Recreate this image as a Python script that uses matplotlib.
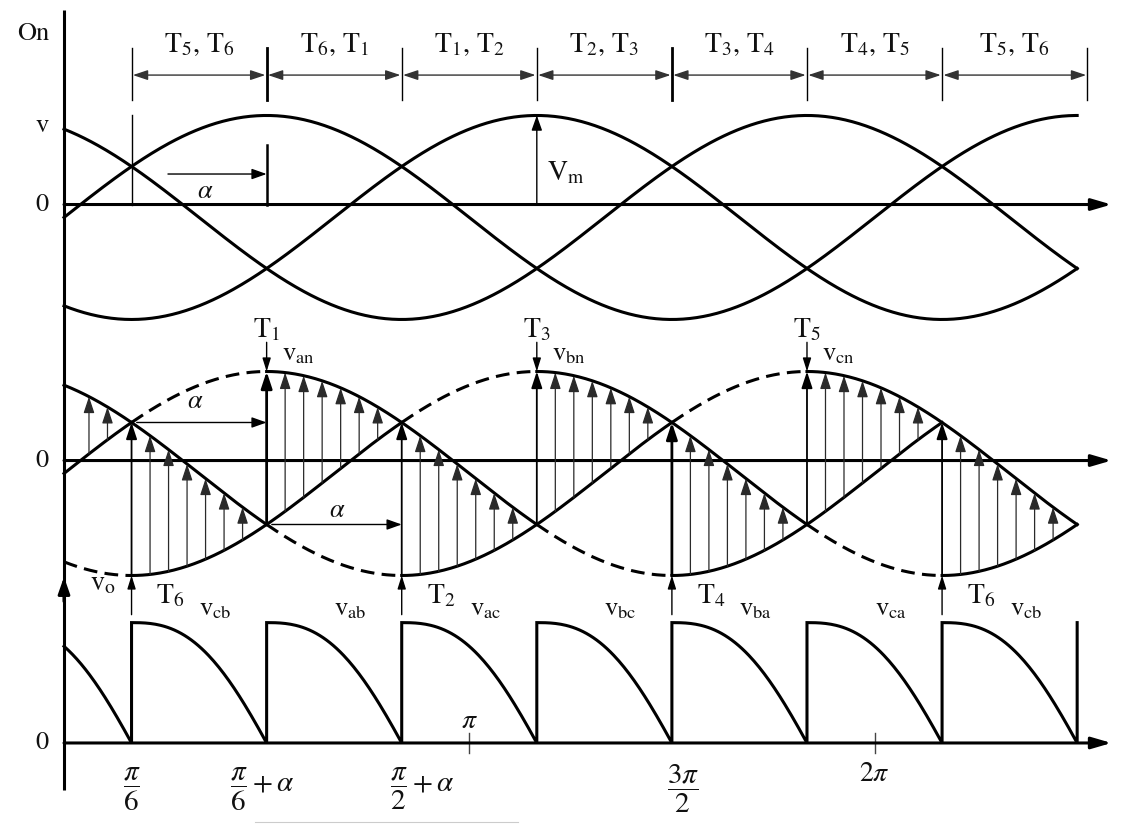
import numpy as np
import matplotlib
matplotlib.use("Agg")
import matplotlib.pyplot as plt

plt.rcParams['font.family'] = ['STIXGeneral', 'DejaVu Serif']
plt.rcParams['mathtext.fontset'] = 'stix'

PI = np.pi

# ---------------- converter data ----------------
phase_shift = [0.0, -2 * PI / 3, 2 * PI / 3]      # van, vbn, vcn  (per unit of Vm)
alpha = PI / 3                                    # firing delay angle
theta_end = 5 * PI / 2

# thyristor number -> supply phase (0=a, 1=b, 2=c)
thyristor_phase = {1: 0, 3: 1, 5: 2, 4: 0, 6: 1, 2: 2}
upper_group = [1, 3, 5]
lower_group = [4, 6, 2]

# conducting pairs between successive firings
pair_labels = ['T$_5$, T$_6$', 'T$_6$, T$_1$', 'T$_1$, T$_2$', 'T$_2$, T$_3$',
               'T$_3$, T$_4$', 'T$_4$, T$_5$', 'T$_5$, T$_6$']
# device fired at the start of each interval and resulting output voltage
fired_device = [6, 1, 2, 3, 4, 5, 6]
output_labels = ['cb', 'ab', 'ac', 'bc', 'ba', 'ca', 'cb']
phase_labels = {1: 'an', 3: 'bn', 5: 'cn'}

# output-voltage pulse profile (drawn shape of each 60 degree segment)
vo_peak = 1.18
vo_shape_exp = 1.3

# ---------------- layout (1 unit = Vm) ----------------
base1 = 6.064        # centre of phase-voltage panel
base2 = 3.554        # centre of switching panel
base3 = 0.912        # zero of output-voltage panel
axis_lift = 0.127    # drawn zero axis of the sine panels
dim_y = 7.46         # conduction-pair dimension line
x_arrow_end = 8.12
LW = 2.2
FS = 19


def fire_angle(n):
    return PI / 6 + alpha + (n - 1) * PI / 3


def v(ph, th):
    return np.sin(np.asarray(th) + phase_shift[ph])


def on_device(th, group):
    ages = [((th + 1e-9 - fire_angle(n)) % (2 * PI)) for n in group]
    return group[int(np.argmin(ages))]


interval_starts = [PI / 6 + alpha + (k - 1) * PI / 3 for k in range(len(pair_labels))]
interval_len = PI / 3

fig = plt.figure(figsize=(11.33, 8.36), dpi=100)
ax = fig.add_axes([0, 0, 1, 1])
ax.set_xlim(-64 / 129, (1133 - 64) / 129)
ax.set_ylim(0, 836 / 102)
ax.axis('off')


def arrow(x0, y0, x1, y1, lw=1.0, color='k', hl=0.9, hw=0.32, style='-|>'):
    ax.annotate('', xy=(x1, y1), xytext=(x0, y0),
                arrowprops=dict(arrowstyle=f'{style},head_length={hl},head_width={hw}',
                                lw=lw, color=color, shrinkA=0, shrinkB=0))


def label(x, y, s, fs=FS, ha='center', va='center'):
    ax.text(x, y, s, fontsize=fs, ha=ha, va=va, color='#111111')


# ---------------- axes ----------------
ax.plot([0, 0], [0.45, 8.10], color='k', lw=LW, solid_capstyle='butt')
arrow(0, 2.30, 0, 2.54, lw=LW, hl=1.0, hw=0.35)
for y0 in (base1 + axis_lift, base2 + axis_lift, base3):
    arrow(0, y0, x_arrow_end, y0, lw=LW, hl=1.2, hw=0.35)
    label(-0.17, y0, '0')

label(-0.24, 7.86, 'On')
label(-0.17, base1 + v(2, 0) + 0.03, 'v')
label(0.20, 2.47, 'v$_{\\rm o}$', fs=20, ha='left')

# ---------------- conduction-pair dimension row ----------------
dim_marks = interval_starts + [theta_end + 0.08]
for m in dim_marks:
    bold = np.isclose(m, PI / 2) or np.isclose(m, 3 * PI / 2)
    ax.plot([m, m], [7.216, 7.725], color='k', lw=2.0 if bold else 1.0)
for k, lab in enumerate(pair_labels):
    a, b = dim_marks[k], dim_marks[k + 1]
    arrow(a + 0.01, dim_y, b - 0.01, dim_y, lw=1.0, color='#333333', hl=0.9, hw=0.3,
          style='<|-|>')
    label((a + b) / 2, 7.76, lab, fs=20)

# ---------------- panel 1: phase voltages ----------------
th = np.linspace(0, theta_end, 600)
for ph in range(3):
    ax.plot(th, base1 + v(ph, th), color='k', lw=LW)

first = interval_starts[0]
ax.plot([first, first], [base1 + axis_lift, 7.07], color='k', lw=1.0)
ax.plot([first + alpha] * 2, [base1 + axis_lift, 6.775], color='k', lw=1.8)
arrow(0.806, 6.49, first + alpha, 6.49, lw=1.0)
label(1.093, 6.31, r'$\alpha$')
vm_at = fire_angle(3)
arrow(vm_at, base1 + axis_lift, vm_at, base1 + 1.0, lw=1.0)
label(vm_at + 0.08, 6.50, 'V$_{\\rm m}$', fs=20, ha='left')

# ---------------- panel 2: conduction of each phase ----------------
env_points = [PI / 6 + k * PI / 3 for k in range(-1, 9)]
fire_points = [s for s in interval_starts]
breaks = sorted({0.0, theta_end} | {p for p in env_points + fire_points if 0 < p < theta_end})
dashed_limit = interval_starts[-1]

for ph in range(3):
    runs = []
    for a, b in zip(breaks[:-1], breaks[1:]):
        m = 0.5 * (a + b)
        vals = [float(v(p, m)) for p in range(3)]
        on = {thyristor_phase[on_device(m, upper_group)],
              thyristor_phase[on_device(m, lower_group)]}
        if ph in on:
            state = 'solid'
        elif (vals[ph] == max(vals) or vals[ph] == min(vals)) and m < dashed_limit:
            state = 'dashed'
        else:
            state = None
        if runs and runs[-1][2] == state and np.isclose(runs[-1][1], a):
            runs[-1][1] = b
        else:
            runs.append([a, b, state])
    for a, b, state in runs:
        if state is None:
            continue
        t = np.linspace(a, b, 200)
        ax.plot(t, base2 + v(ph, t), color='k', lw=LW,
                linestyle='-' if state == 'solid' else (0, (4.5, 2.4)))

# output-voltage arrows between the two rails
spacing = interval_len / 7.3
for s in [interval_starts[0] - interval_len] + interval_starts:
    for j in range(7):
        t = s + j * spacing
        if t < 0.12 or t > theta_end:
            continue
        top = base2 + float(v(thyristor_phase[on_device(t, upper_group)], t))
        bot = base2 + float(v(thyristor_phase[on_device(t, lower_group)], t))
        if top - bot < 0.05:
            continue
        if j == 0:
            bold = np.isclose(t, PI / 2) or np.isclose(t, 3 * PI / 2)
            arrow(t, bot, t, top, lw=2.0 if bold else 1.3, color='k', hl=1.0, hw=0.33)
        else:
            arrow(t, bot, t, top, lw=0.9, color='#2a2a2a', hl=1.0, hw=0.33)

# firing marks of the upper and lower devices
for k, n in enumerate(fired_device):
    f = interval_starts[k]
    if n in upper_group:
        label(f, 4.96, 'T$_{%d}$' % n, fs=20)
        arrow(f, 4.84, f, base2 + 1.0, lw=1.0, hl=0.8, hw=0.25)
        label(f + 0.12, 4.72, 'v$_{\\rm %s}$' % phase_labels[n], ha='left')
    else:
        arrow(f, 2.17, f, base2 - 1.0, lw=1.0, hl=0.8, hw=0.25)

arrow(first + 0.04, base2 + 0.5, first + alpha, base2 + 0.5, lw=1.0)
label(1.02, base2 + 0.70, r'$\alpha$')
arrow(first + alpha + 0.04, base2 - 0.5, first + 2 * alpha, base2 - 0.5, lw=1.0)
label(2.12, base2 - 0.37, r'$\alpha$')

# ---------------- panel 3: output voltage ----------------
seg_x, seg_y = [], []
for s in [interval_starts[0] - interval_len] + interval_starts:
    t = np.linspace(max(s, 0), min(s + interval_len, theta_end), 80)
    f = (t - s) / interval_len
    seg_x += list(t)
    seg_y += list(vo_peak * np.cos(PI / 2 * f ** vo_shape_exp))
seg_x += [theta_end, theta_end]
seg_y += [0.0, vo_peak]
ax.plot(seg_x, base3 + np.array(seg_y), color='k', lw=LW, solid_joinstyle='miter')

for k, n in enumerate(fired_device):
    s = interval_starts[k]
    if n in lower_group:
        label(s + 0.29 * interval_len, 2.35, 'T$_{%d}$' % n, fs=20)
    label(s + 0.62 * interval_len, 2.22, 'v$_{\\rm %s}$' % output_labels[k])

# ---------------- angle labels ----------------
for t in (PI, 2 * PI):
    ax.plot([t, t], [base3 - 0.10, base3 + 0.10], color='#444444', lw=1.0)
label(PI / 6, 0.46, r'$\dfrac{\pi}{6}$', fs=21)
label(PI / 2 - 0.03, 0.46, r'$\dfrac{\pi}{6}+\alpha$', fs=21)
label(5 * PI / 6 + 0.16, 0.46, r'$\dfrac{\pi}{2}+\alpha$', fs=21)
label(PI, 1.12, r'$\pi$', fs=20)
label(3 * PI / 2 + 0.09, 0.46, r'$\dfrac{3\pi}{2}$', fs=21)
label(2 * PI, 0.60, r'$2\pi$', fs=20)
ax.plot([1.48, 3.52], [0.137, 0.137], color='#cccccc', lw=0.8)

fig.savefig('out.png', dpi=100)
